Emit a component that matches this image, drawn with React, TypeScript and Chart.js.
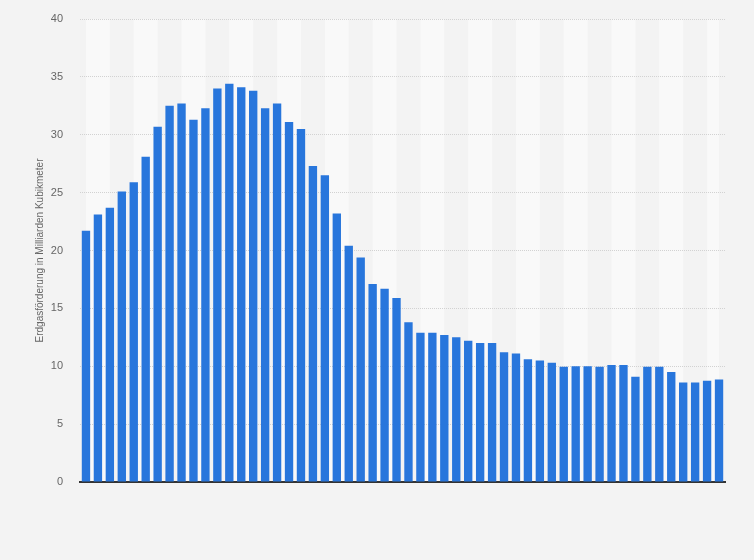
import React, { useEffect, useRef } from "react";
import { Chart, registerables } from "chart.js";

Chart.register(...registerables);

const years: string[] = Array.from({ length: 54 }, (_, i) => String(1970 + i));

const production: number[] = [
  21.7, 23.1, 23.7, 25.1, 25.9, 28.1, 30.7, 32.5, 32.7, 31.3,
  32.3, 34.0, 34.4, 34.1, 33.8, 32.3, 32.7, 31.1, 30.5, 27.3,
  26.5, 23.2, 20.4, 19.4, 17.1, 16.7, 15.9, 13.8, 12.9, 12.9,
  12.7, 12.5, 12.2, 12.0, 12.0, 11.2, 11.1, 10.6, 10.5, 10.3,
  9.95, 10.0, 10.0, 9.95, 10.1, 10.1, 9.1, 9.95, 9.95, 9.5,
  8.6, 8.6, 8.75, 8.85,
];

const yTicks: number[] = [0, 5, 10, 15, 20, 25, 30, 35, 40];
const yTitle = "Erdgasförderung in Milliarden Kubikmeter";

const stripePlugin = {
  id: "stripes",
  beforeDraw(chart: any) {
    const { ctx, chartArea, scales } = chart;
    ctx.save();
    ctx.fillStyle = "#f3f3f3";
    ctx.fillRect(0, 0, chart.width, chart.height);
    const x = scales.x;
    const n = chart.data.labels.length;
    ctx.fillStyle = "#f9f9f9";
    for (let i = 0; i < n; i += 4) {
      const a = x.getPixelForValue(i);
      const b = x.getPixelForValue(Math.min(i + 2, n - 1));
      ctx.fillRect(a, chartArea.top, b - a, chartArea.bottom - chartArea.top);
    }
    ctx.restore();
  },
};

export default function App() {
  const ref = useRef<HTMLCanvasElement | null>(null);

  useEffect(() => {
    document.body.style.margin = "0";
    document.body.style.background = "#f3f3f3";
    const canvas = ref.current;
    if (!canvas) return;
    const chart = new Chart(canvas, {
      type: "bar",
      data: {
        labels: years,
        datasets: [
          {
            data: production,
            backgroundColor: "#2876dc",
            borderWidth: 0,
            barPercentage: 0.7,
            categoryPercentage: 1,
          },
        ],
      },
      options: {
        animation: false,
        responsive: false,
        maintainAspectRatio: false,
        layout: { padding: { top: 19, right: 29, bottom: 78, left: 0 } },
        plugins: {
          legend: { display: false },
          tooltip: { enabled: false },
        },
        scales: {
          x: {
            grid: { display: false, drawTicks: false },
            ticks: { display: false },
            border: { display: true, color: "#333333", width: 2 },
          },
          y: {
            min: 0,
            max: 40,
            afterFit(scale: any) {
              scale.width = 80;
            },
            afterBuildTicks(scale: any) {
              scale.ticks = yTicks.map((v) => ({ value: v }));
            },
            grid: {
              color: "#d2d2d2",
              drawTicks: true,
              tickLength: 17,
              tickColor: "rgba(0,0,0,0)",
              lineWidth: 1,
            },
            border: { display: false, dash: [1, 1] },
            ticks: {
              color: "#666666",
              padding: 0,
              font: { family: "Liberation Sans, Arial, sans-serif", size: 11 },
            },
            title: {
              display: true,
              text: yTitle,
              color: "#666666",
              padding: { top: 34, bottom: 0 },
              font: { family: "Liberation Sans, Arial, sans-serif", size: 10 },
            },
          },
        },
      },
      plugins: [stripePlugin],
    });
    return () => chart.destroy();
  }, []);

  return (
    <div style={{ width: 754, height: 560, background: "#f3f3f3" }}>
      <canvas ref={ref} width={754} height={560} style={{ display: "block" }} />
    </div>
  );
}
